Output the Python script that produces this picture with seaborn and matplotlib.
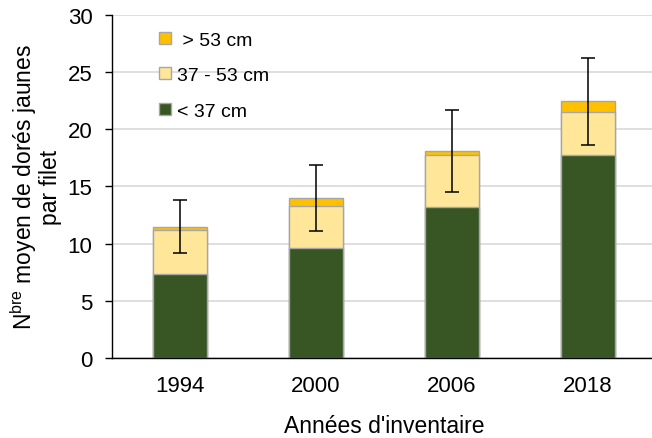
import seaborn as sns
import matplotlib.pyplot as plt
import numpy as np
import pandas as pd
from matplotlib.patches import Patch

# Valeurs
annees = ['1994', '2000', '2006', '2018']
petits = [7.34, 9.62, 13.20, 17.74]      # < 37 cm
moyens = [3.87, 3.64, 4.57, 3.79]        # 37 - 53 cm
grands = [0.27, 0.72, 0.30, 0.91]        # > 53 cm
erreur = [2.33, 2.86, 3.60, 3.80]

couleurs = {'< 37 cm': '#375623', '37 - 53 cm': '#FFE699', ' > 53 cm': '#FFC000'}
bord = '#A6A6A6'

sns.set_style('white')
plt.rcParams['font.family'] = ['Liberation Sans', 'DejaVu Sans']
plt.rcParams['mathtext.fontset'] = 'custom'
plt.rcParams['mathtext.rm'] = 'Liberation Sans'
plt.rcParams['text.color'] = 'black'
plt.rcParams['axes.labelcolor'] = 'black'
plt.rcParams['xtick.color'] = 'black'
plt.rcParams['ytick.color'] = 'black'

df = pd.DataFrame({'annee': annees, 'petits': petits, 'moyens': moyens, 'grands': grands})
df['cum_moyens'] = df['petits'] + df['moyens']
df['total'] = df['cum_moyens'] + df['grands']

fig = plt.figure(figsize=(6.52, 4.39), dpi=100)
ax = fig.add_axes([112 / 652, 1 - 359 / 439, 544 / 652, (359 - 15.7) / 439])

# empilement : on dessine les cumuls du plus haut au plus bas
for col, lbl in [('total', ' > 53 cm'), ('cum_moyens', '37 - 53 cm'), ('petits', '< 37 cm')]:
    sns.barplot(data=df, x='annee', y=col, order=annees, color=couleurs[lbl],
                width=0.39, edgecolor=bord, linewidth=1, saturation=1,
                errorbar=None, ax=ax, zorder=2)

ax.errorbar(np.arange(len(annees)), df['total'], yerr=erreur, fmt='none',
            ecolor='black', elinewidth=1.1, capsize=5, capthick=1.1, zorder=3)

ax.set_ylim(0, 30)
ax.set_xlim(-0.5, 3.5)
ax.set_yticks(range(0, 31, 5))
ax.yaxis.grid(True, color='#D9D9D9', linewidth=1.2, zorder=0)
ax.set_axisbelow(True)

for s in ['top', 'right']:
    ax.spines[s].set_visible(False)
for s in ['left', 'bottom']:
    ax.spines[s].set_color('black')
    ax.spines[s].set_linewidth(1)

ax.set_xticks(np.arange(-0.5, 3.5, 1), minor=True)
ax.tick_params(axis='x', which='major', length=0, pad=12, labelsize=16, labelcolor='black')
ax.tick_params(axis='x', which='minor', length=5, width=1, color='black', direction='out')
ax.tick_params(axis='y', length=5, width=1, color='black', direction='out', pad=9,
               labelsize=16, left=True, labelcolor='black')

ax.set_xlabel("Années d'inventaire", fontsize=16.5, labelpad=13, color='black')
ax.set_ylabel("N$^{\\mathrm{bre}}$ moyen de dorés jaunes\npar filet", fontsize=16.5,
              labelpad=4, linespacing=1.0, color='black')

poignees = [Patch(facecolor=couleurs[k], edgecolor=bord, label=k)
            for k in [' > 53 cm', '37 - 53 cm', '< 37 cm']]
leg = ax.legend(handles=poignees, loc='upper left', bbox_to_anchor=(0.065, 0.985), frameon=False,
                fontsize=14, handlelength=0.6, handleheight=0.6, handletextpad=0.3,
                labelspacing=0.95, borderaxespad=0.2)
for t in leg.get_texts():
    t.set_color('black')

plt.savefig('out.png', dpi=100)
